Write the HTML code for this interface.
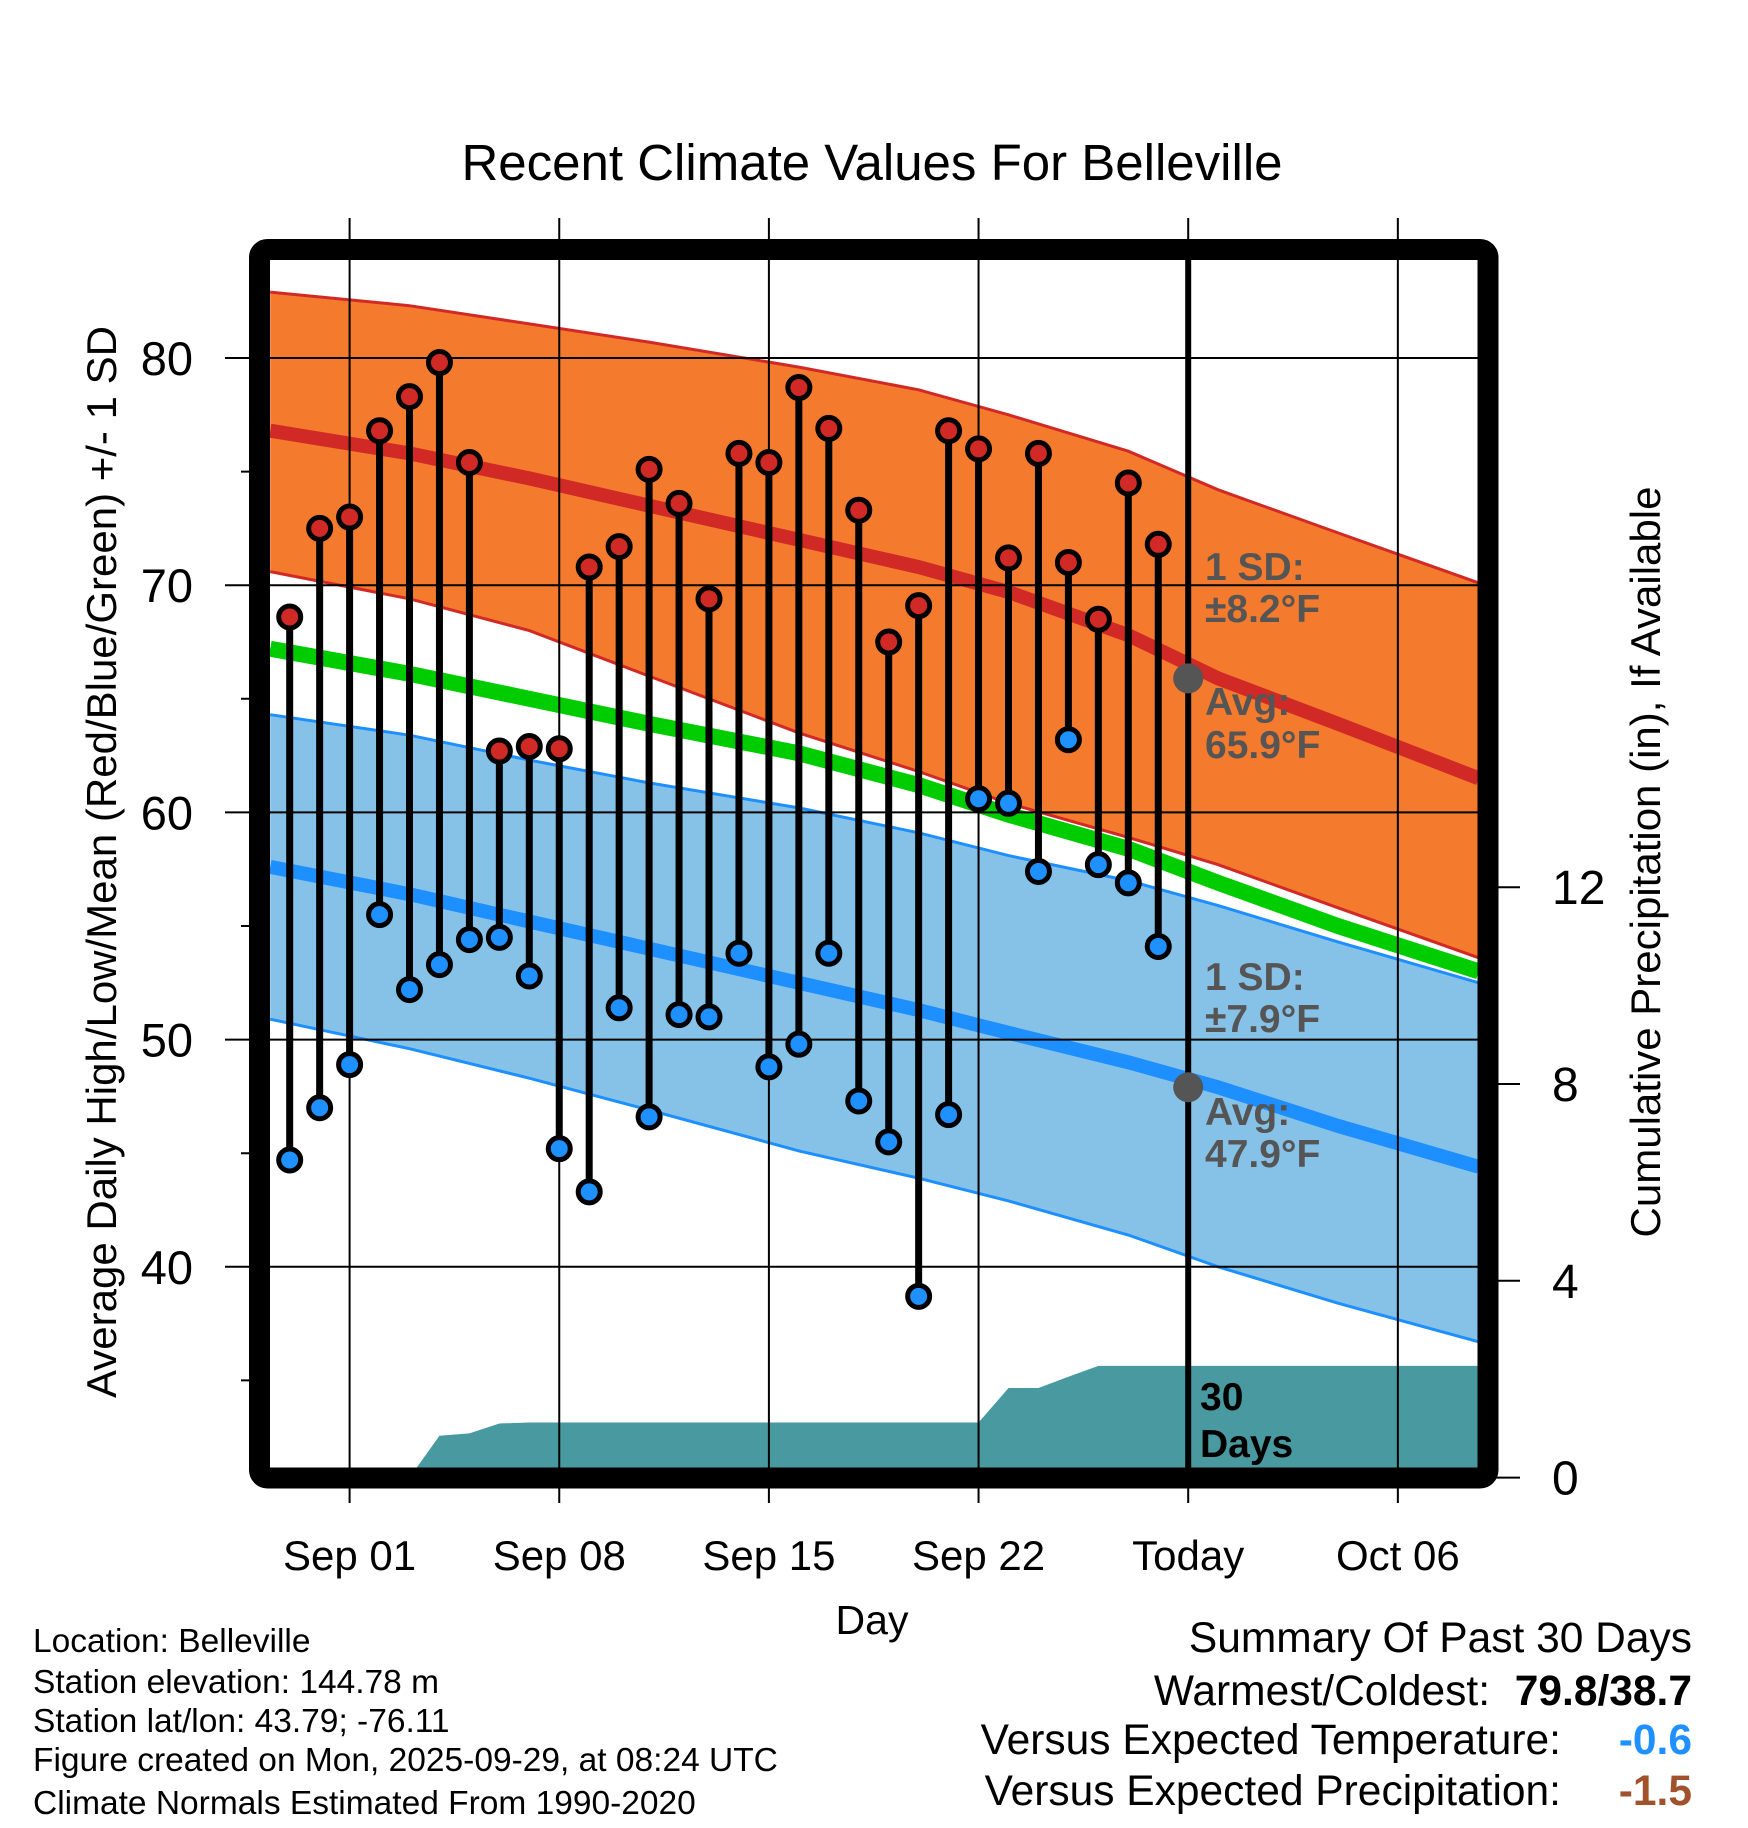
<!DOCTYPE html>
<html><head><meta charset="utf-8"><style>
html,body{margin:0;padding:0;background:#fff;}
svg{display:block;font-family:"Liberation Sans",sans-serif;}
</style></head><body>
<svg id="chart" width="1748" height="1828" viewBox="0 0 1748 1828" xmlns="http://www.w3.org/2000/svg">
<text x="872" y="180" font-size="51" text-anchor="middle">Recent Climate Values For Belleville</text>
<g id="plot"></g>
<text transform="translate(116,862) rotate(-90)" font-size="42" text-anchor="middle">Average Daily High/Low/Mean (Red/Blue/Green) +/- 1 SD</text>
<text transform="translate(1660,862) rotate(-90)" font-size="42" text-anchor="middle">Cumulative Precipitation (in), If Available</text>
<text x="872" y="1634" font-size="41" text-anchor="middle">Day</text>
<g font-size="33.5">
<text x="33" y="1652">Location: Belleville</text>
<text x="33" y="1693">Station elevation: 144.78 m</text>
<text x="33" y="1732">Station lat/lon: 43.79; -76.11</text>
<text x="33" y="1771">Figure created on Mon, 2025-09-29, at 08:24 UTC</text>
<text x="33" y="1814">Climate Normals Estimated From 1990-2020</text>
</g>
<g font-size="42.5">
<text x="1692" y="1652" text-anchor="end">Summary Of Past 30 Days</text>
<text x="1490" y="1705" text-anchor="end">Warmest/Coldest:</text>
<text x="1692" y="1705" text-anchor="end" font-weight="bold">79.8/38.7</text>
<text x="1561" y="1754" text-anchor="end">Versus Expected Temperature:</text>
<text x="1692" y="1754" text-anchor="end" font-weight="bold" fill="#1e90ff">-0.6</text>
<text x="1561" y="1805" text-anchor="end">Versus Expected Precipitation:</text>
<text x="1692" y="1805" text-anchor="end" font-weight="bold" fill="#a0522d">-1.5</text>
</g>
</svg>
<script>
// data
const dayOffsets=[-2,-1,0,1,2,3,4,5,6,7,8,9,10,11,12,13,14,15,16,17,18,19,20,21,22,23,24,25,26,27];
const highs=[68.6,72.5,73.0,76.8,78.3,79.8,75.4,62.7,62.9,62.8,70.8,71.7,75.1,73.6,69.4,75.8,75.4,78.7,76.9,73.3,67.5,69.1,76.8,76.0,71.2,75.8,71.0,68.5,74.5,71.8];
const lows=[44.7,47.0,48.9,55.5,52.2,53.3,54.4,54.5,52.8,45.2,43.3,51.4,46.6,51.1,51.0,53.8,48.8,49.8,53.8,47.3,45.5,38.7,46.7,60.6,60.4,57.4,63.2,57.7,56.9,54.1];
const precip=[0,0,0,0,0,0.85,0.9,1.1,1.12,1.12,1.12,1.12,1.12,1.12,1.12,1.12,1.12,1.12,1.12,1.12,1.12,1.12,1.12,1.12,1.82,1.82,2.05,2.27,2.27,2.27];
const normDays=[-2.65,2,6,10,15,19,22,26,29,33,37.7];
const highUpper=[82.9,82.3,81.5,80.7,79.6,78.6,77.5,75.9,74.2,72.3,70.1];
const highAvg=[76.8,75.8,74.7,73.5,72.0,70.8,69.7,67.8,65.9,63.9,61.5];
const highLower=[70.6,69.4,68.0,66.0,63.5,61.8,60.4,58.9,57.7,55.8,53.6];
const meanAvg=[67.2,66.1,65.0,63.9,62.6,61.2,59.9,58.4,56.9,55.0,53.0];
const lowUpper=[64.3,63.4,62.3,61.3,60.2,59.1,58.1,57.0,55.9,54.3,52.5];
const lowAvg=[57.6,56.4,55.2,54.0,52.5,51.3,50.3,49.0,47.9,46.2,44.4];
const lowLower=[50.9,49.6,48.3,46.9,45.1,43.9,42.9,41.4,40.0,38.4,36.7];
const xTickDays=[0,7,14,21,28,35];
const xTickLabels=["Sep 01","Sep 08","Sep 15","Sep 22","Today","Oct 06"];
const yTicks=[40,50,60,70,80];
const yMinor=[35,45,55,65,75];
const pTicks=[0,4,8,12];

const L=270,R=1478,T=260,B=1468;
const dayMin=-2.65,dayMax=37.7;
const X=d=>349.6+d*29.95;
const Y=t=>358-(t-80)*22.72;
const P=p=>1477.6-p*49.2;
const NS='http://www.w3.org/2000/svg';
const plot=document.getElementById('plot');
function mk(tag,attrs,parent){const e=document.createElementNS(NS,tag);for(const k in attrs)e.setAttribute(k,attrs[k]);(parent||plot).appendChild(e);return e;}
function pts(days,vals){return days.map((d,i)=>X(d).toFixed(1)+','+Y(vals[i]).toFixed(1));}
function band(up,lo,fill,name){const p=pts(normDays,up).concat(pts(normDays,lo).reverse());const e=mk('polygon',{points:p.join(' '),fill:fill});

}
function line(vals,color,w,name){const e=mk('polyline',{points:pts(normDays,vals).join(' '),fill:'none',stroke:color,'stroke-width':w});

}

band(highUpper,highLower,'#f47a2e','high-sd-band');
band(lowUpper,lowLower,'#86c2e8','low-sd-band');
line(highUpper,'#d12a26',3,'high-upper-sd-line');
line(highLower,'#d12a26',3,'high-lower-sd-line');
line(lowUpper,'#1e8fff',3,'low-upper-sd-line');
line(lowLower,'#1e8fff',3,'low-lower-sd-line');
line(meanAvg,'#00cc00',16,'mean-normal-line');
line(highAvg,'#d12a26',14,'high-normal-line');
line(lowAvg,'#1e8fff',14,'low-normal-line');
{let p=[X(dayMin)+','+P(0)];dayOffsets.forEach((d,i)=>p.push(X(d)+','+P(precip[i])));p.push(X(dayMax)+','+P(precip[precip.length-1]));p.push(X(dayMax)+','+P(0));
const e=mk('polygon',{points:p.join(' '),fill:'#489aa0'});

}
xTickDays.forEach(d=>{const e=mk('line',{x1:X(d),x2:X(d),y1:218,y2:1503,stroke:'#000','stroke-width':2});

});
yTicks.forEach(t=>{const e=mk('line',{x1:225,x2:R,y1:Y(t),y2:Y(t),stroke:'#000','stroke-width':2});

});
yMinor.forEach(t=>{const e=mk('line',{x1:241,x2:L,y1:Y(t),y2:Y(t),stroke:'#000','stroke-width':2});

});
pTicks.forEach(p=>{const e=mk('line',{x1:R,x2:1520,y1:P(p),y2:P(p),stroke:'#000','stroke-width':2});


const t=mk('text',{x:1552,y:P(p)+17,'font-size':48});t.textContent=p;

});
{const e=mk('line',{x1:X(28),x2:X(28),y1:T,y2:B,stroke:'#000','stroke-width':6});

}
dayOffsets.forEach((d,i)=>{
const s=mk('line',{x1:X(d),x2:X(d),y1:Y(highs[i]),y2:Y(lows[i]),stroke:'#000','stroke-width':7});


const h=mk('circle',{cx:X(d),cy:Y(highs[i]),r:11,fill:'#d12a26',stroke:'#000','stroke-width':5});


const l=mk('circle',{cx:X(d),cy:Y(lows[i]),r:11,fill:'#1e90ff',stroke:'#000','stroke-width':5});


});
[65.9,47.9].forEach(v=>{const c=mk('circle',{cx:X(28),cy:Y(v),r:15,fill:'#555'});

});
const ann=[["1 SD:",580],["±8.2°F",622],["Avg:",715],["65.9°F",758],["1 SD:",990],["±7.9°F",1032],["Avg:",1125],["47.9°F",1167]];
ann.forEach(a=>{const t=mk('text',{x:1205,y:a[1],'font-size':39,'font-weight':'bold',fill:'#555'});t.textContent=a[0];

});
[["30",1410],["Days",1457]].forEach(a=>{const t=mk('text',{x:1200,y:a[1],'font-size':39,'font-weight':'bold',fill:'#000'});t.textContent=a[0];

});
{const f=mk('rect',{x:259.5,y:249.5,width:1228.5,height:1228.5,rx:8,fill:'none',stroke:'#000','stroke-width':21});

}
yTicks.forEach(t=>{const e=mk('text',{x:193,y:Y(t)+17,'font-size':47,'text-anchor':'end'});e.textContent=t;

});
xTickDays.forEach((d,i)=>{const e=mk('text',{x:X(d),y:1570,'font-size':42,'text-anchor':'middle'});e.textContent=xTickLabels[i];

});
</script>
</body></html>
